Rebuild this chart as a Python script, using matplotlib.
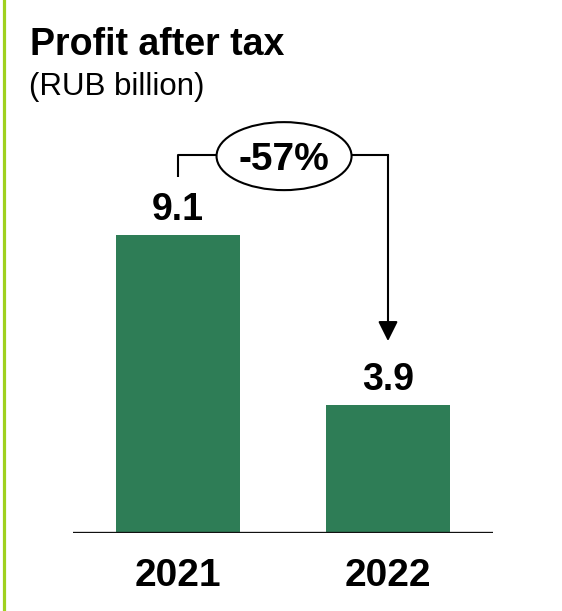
import matplotlib
matplotlib.use("Agg")
import matplotlib.pyplot as plt
from matplotlib.patches import Ellipse
from matplotlib.lines import Line2D

years = ["2021", "2022"]
profit = [9.1, 3.9]
change_label = "-57%"

BAR_COLOR = "#2e7d56"
EDGE_COLOR = "#9fd11f"

plt.rcParams["font.family"] = ["Liberation Sans", "DejaVu Sans"]

W, H = 562, 611
fig = plt.figure(figsize=(W / 100, H / 100), dpi=100)

# axes: baseline at y=533px, x range 73..493px
ax = fig.add_axes([73 / W, (H - 533) / H, 420 / W, 533 / H])
ax.set_xlim(-0.5, 1.5)
ax.set_ylim(0, 16.25)
ax.axis("off")

x = list(range(len(years)))
ax.bar(x, profit, width=0.586, color=BAR_COLOR, zorder=2)
ax.axhline(0, color="#111111", lw=2.4, zorder=3)

for xi, val, yr in zip(x, profit, years):
    ax.annotate(f"{val:.1f}", (xi, val), xytext=(0, 10.8), textcoords="offset points",
                ha="center", va="baseline", fontsize=27, fontweight="bold")
    ax.annotate(yr, (xi, 0), xytext=(0, -38), textcoords="offset points",
                ha="center", va="baseline", fontsize=28, fontweight="bold")

# change bracket from the first bar to the second
px = 1 / 32.8  # one pixel in data units
top = 11.52
ell_x, ell_w, ell_h = 0.505, 0.643, 68 * px
ax.plot([x[0], x[0], ell_x - ell_w / 2], [profit[0] + 58 * px, top, top],
        color="black", lw=1.5, solid_capstyle="butt", zorder=3)
ax.plot([ell_x + ell_w / 2, x[1]], [top, top], color="black", lw=1.5, zorder=3)
ax.annotate("", xy=(x[1], profit[1] + 64 * px), xytext=(x[1], top),
            arrowprops=dict(arrowstyle="-|>,head_length=0.4,head_width=0.2",
                            mutation_scale=30, lw=1.5, color="black",
                            shrinkA=0, shrinkB=0), zorder=3)
ax.add_patch(Ellipse((ell_x, top - 0.03), ell_w, ell_h, facecolor="white",
                     edgecolor="black", lw=1.5, zorder=4))
ax.text(ell_x, top - 0.03, change_label, ha="center", va="center_baseline",
        fontsize=28, fontweight="bold", zorder=5)

fig.text(30 / W, 1 - 55 / H, "Profit after tax", ha="left", va="baseline",
         fontsize=27, fontweight="bold")
fig.text(29 / W, 1 - 95 / H, "(RUB billion)", ha="left", va="baseline", fontsize=22.5)

fig.add_artist(Line2D([3.8 / W, 3.8 / W], [0, 1], color=EDGE_COLOR, lw=2.3,
                      transform=fig.transFigure))

fig.savefig("out.png", dpi=100)
